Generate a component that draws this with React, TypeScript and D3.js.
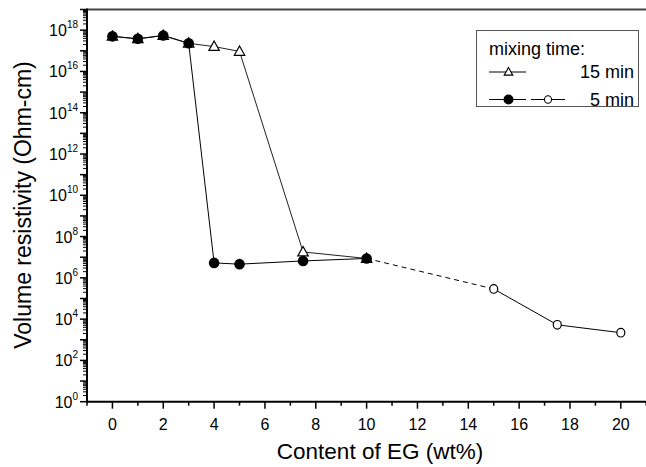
import React from 'react';
import * as d3 from 'd3';

// EG content (wt%) and volume resistivity (Ohm-cm)
const egContent = [0, 1, 2, 3, 4, 5, 7.5, 10];
const res5min = [5e17, 3.8e17, 5.5e17, 2.3e17, 5.3e6, 4.6e6, 6.6e6, 8.7e6];
const res15min = [5e17, 3.8e17, 5.5e17, 2.3e17, 1.6e17, 9.3e16, 1.8e7, 8.7e6];
const egHigh = [15, 17.5, 20];
const resHigh = [2.9e5, 5.3e3, 2.2e3];

const xTicks = d3.range(-1, 22, 1);
const yDecades = d3.range(0, 20, 1);
const yLabelExps = [0, 2, 4, 6, 8, 10, 12, 14, 16, 18];

const W = 646;
const H = 467;
const left = 87;
const bottom = 401.7;
const top = 9.5;
const font = 'Arial, "Liberation Sans", Helvetica, sans-serif';

export default function App() {
  const x = d3.scaleLinear().domain([-1, 21]).range([left, left + 22 * 25.42]);
  const y = d3.scaleLog().domain([1, 1e19]).range([bottom, top]);

  const line = d3.line<[number, number]>().x((d) => x(d[0])).y((d) => y(d[1]));
  const pts5 = egContent.map((v, i) => [v, res5min[i]] as [number, number]);
  const pts15 = egContent.map((v, i) => [v, res15min[i]] as [number, number]);
  const ptsHigh = egHigh.map((v, i) => [v, resHigh[i]] as [number, number]);
  const dashed: [number, number][] = [pts5[pts5.length - 1], ptsHigh[0]];

  // minor log ticks
  const minor: number[] = [];
  yDecades.slice(0, -1).forEach((e) => {
    for (let k = 2; k <= 9; k++) minor.push(k * Math.pow(10, e));
  });

  const tri = (cx: number, cy: number, s: number) =>
    `M${cx},${cy - s}L${cx + s * 0.95},${cy + s * 0.7}L${cx - s * 0.95},${cy + s * 0.7}Z`;

  return (
    <svg width={W} height={H} style={{ position: 'absolute', left: 0, top: 0 }} fontFamily={font}>
      <rect width={W} height={H} fill="#fff" />
      {/* frame */}
      <line x1={left} x2={W} y1={top} y2={top} stroke="#444" strokeWidth={2} />
      <line x1={left} x2={left} y1={top - 1} y2={bottom + 1} stroke="#000" strokeWidth={2} />
      <line x1={left - 1} x2={W} y1={bottom} y2={bottom} stroke="#000" strokeWidth={2} />

      {/* y ticks */}
      {minor.map((v, i) => (
        <line key={'m' + i} x1={left - 4} x2={left} y1={y(v)} y2={y(v)} stroke="#000" strokeWidth={1} />
      ))}
      {yDecades.map((e) => (
        <line key={'d' + e} x1={left - 7} x2={left} y1={y(Math.pow(10, e))} y2={y(Math.pow(10, e))} stroke="#000" strokeWidth={1.5} />
      ))}
      {yLabelExps.map((e) => (
        <text key={'l' + e} x={left - 9} y={y(Math.pow(10, e)) + 6} textAnchor="end" fontSize={16}>
          10<tspan fontSize={10} dy={-8}>{e}</tspan>
        </text>
      ))}

      {/* x ticks */}
      {xTicks.map((t) => (
        <line key={'x' + t} x1={x(t)} x2={x(t)} y1={bottom} y2={bottom + (t % 2 === 0 ? 7 : 4)} stroke="#000" strokeWidth={1.5} />
      ))}
      {xTicks.filter((t) => t % 2 === 0 && t >= 0 && t <= 20).map((t) => (
        <text key={'xl' + t} x={x(t)} y={430} textAnchor="middle" fontSize={16}>{t}</text>
      ))}

      {/* axis titles */}
      <text x={380} y={459} textAnchor="middle" fontSize={22.5}>Content of EG (wt%)</text>
      <text transform={`translate(31,205) rotate(-90)`} textAnchor="middle" fontSize={23}>Volume resistivity (Ohm-cm)</text>

      {/* lines */}
      <path d={line(pts15) || ''} fill="none" stroke="#222" strokeWidth={1} />
      <path d={line(pts5) || ''} fill="none" stroke="#000" strokeWidth={1} />
      <path d={line(dashed) || ''} fill="none" stroke="#000" strokeWidth={1} strokeDasharray="5,4" />
      <path d={line(ptsHigh) || ''} fill="none" stroke="#000" strokeWidth={1} />

      {/* markers */}
      {pts15.map((p, i) => (
        <path key={'t' + i} d={tri(x(p[0]), y(p[1]), 5.5)} fill="#fff" stroke="#000" strokeWidth={1.2} />
      ))}
      {pts5.map((p, i) => (
        <circle key={'c' + i} cx={x(p[0])} cy={y(p[1])} r={5.3} fill="#000" />
      ))}
      {ptsHigh.map((p, i) => (
        <ellipse key={'o' + i} cx={x(p[0])} cy={y(p[1])} rx={4} ry={4.3} fill="#fff" stroke="#000" strokeWidth={1.2} />
      ))}

      {/* legend */}
      <g>
        <rect x={476.5} y={30.5} width={162} height={76} fill="#fff" stroke="#555" strokeWidth={1} />
        <text x={489} y={55} fontSize={18}>mixing time:</text>
        <line x1={489} x2={526} y1={72} y2={72} stroke="#000" strokeWidth={1} />
        <path d={tri(508.5, 72, 4.5)} fill="#fff" stroke="#000" strokeWidth={1.1} />
        <text x={634} y={78} textAnchor="end" fontSize={18}>15 min</text>
        <line x1={489} x2={526} y1={99.5} y2={99.5} stroke="#000" strokeWidth={1} />
        <circle cx={508.5} cy={99.5} r={5} fill="#000" />
        <line x1={531} x2={565} y1={99.5} y2={99.5} stroke="#000" strokeWidth={1} />
        <ellipse cx={548} cy={99.5} rx={3.5} ry={3.8} fill="#fff" stroke="#000" strokeWidth={1.1} />
        <text x={634} y={106} textAnchor="end" fontSize={18}>5 min</text>
      </g>
    </svg>
  );
}
